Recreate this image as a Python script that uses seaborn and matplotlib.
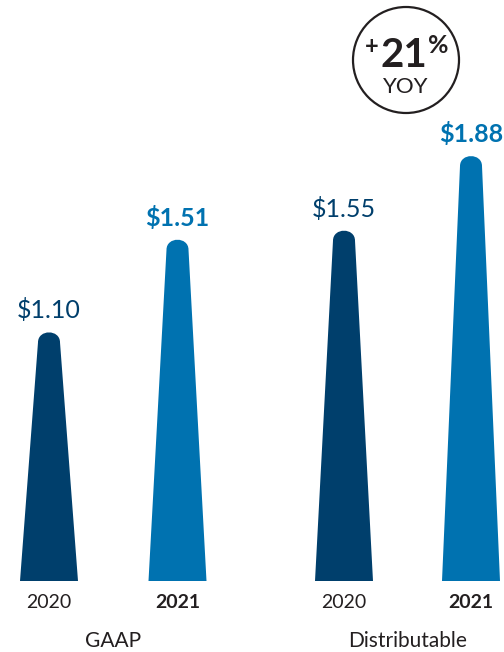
import pandas as pd
import seaborn as sns
import matplotlib.pyplot as plt
from matplotlib.path import Path
from matplotlib.patches import PathPatch, Ellipse

# data
groups = ['GAAP', 'GAAP', 'Distributable', 'Distributable']
years = ['2020', '2021', '2020', '2021']
values = [1.10, 1.51, 1.55, 1.88]
value_labels = ['$1.10', '$1.51', '$1.55', '$1.88']
yoy_pct = '21'
yoy_text = 'YOY'

# layout (pixels)
W, H = 504, 652
BASE = 581          # baseline row
PX_PER_UNIT = 226   # pixels per dollar
xpos = [49, 177.5, 344, 471]
DARK = '#003f6c'
BRIGHT = '#0072b0'
TEXT = '#231f20'
colors = {'2020': DARK, '2021': BRIGHT}

sns.set_theme(style='white')
plt.rcParams['font.family'] = ['Lato', 'DejaVu Sans']

fig = plt.figure(figsize=(W / 100, H / 100), dpi=100)
ax = fig.add_axes([0, (H - BASE) / H, 1, BASE / H])

df = pd.DataFrame({'x': xpos, 'value': values, 'year': years})
sns.barplot(data=df, x='x', y='value', hue='year', palette=colors, saturation=1,
            native_scale=True, dodge=False, legend=False, ax=ax)
ax.set_xlim(0, W)
ax.set_ylim(0, BASE / PX_PER_UNIT)
ax.set_xlabel('')
ax.set_ylabel('')

# turn the plain bars into tapered spikes with a rounded top
half_bot, half_top = 29, 11
cap = 10 / PX_PER_UNIT
for p in list(ax.patches):
    cx = p.get_x() + p.get_width() / 2
    h = p.get_height()
    fc = p.get_facecolor()
    p.remove()
    verts = [(cx - half_bot, 0), (cx - half_top, h - cap),
             (cx - half_top, h + cap / 3), (cx + half_top, h + cap / 3), (cx + half_top, h - cap),
             (cx + half_bot, 0), (cx - half_bot, 0)]
    codes = [Path.MOVETO, Path.LINETO, Path.CURVE4, Path.CURVE4, Path.CURVE4,
             Path.LINETO, Path.CLOSEPOLY]
    ax.add_patch(PathPatch(Path(verts, codes), facecolor=fc, edgecolor='none'))

# value labels
for x, v, lab, yr in zip(xpos, values, value_labels, years):
    bold = yr == '2021'
    ax.text(x, v + 14 / PX_PER_UNIT, lab, ha='center', va='baseline', fontsize=18,
            fontweight='bold' if bold else 'normal', color=colors[yr], clip_on=False)

# year tick labels
ax.set_xticks(xpos, years)
ax.tick_params(axis='x', length=0, pad=9, labelsize=14, labelcolor=TEXT)
for t, yr in zip(ax.get_xticklabels(), years):
    if yr == '2021':
        t.set_fontweight('bold')
ax.set_yticks([])
sns.despine(ax=ax, left=True, bottom=True)

# group labels
for g in dict.fromkeys(groups):
    gx = [x for x, gg in zip(xpos, groups) if gg == g]
    cx = sum(gx) / len(gx)
    fig.text(cx / W, 1 - 647 / H, g, ha='center', va='baseline', fontsize=15, color=TEXT)

# YOY badge
fig.add_artist(Ellipse((406 / W, 1 - 60 / H), 106 / W, 106 / H, transform=fig.transFigure,
                       facecolor='none', edgecolor=TEXT, linewidth=1.6))
fig.text(372 / W, 1 - 47 / H, '+', ha='center', va='center', fontsize=17,
         fontweight='bold', color=TEXT)
fig.text(404 / W, 1 - 67 / H, yoy_pct, ha='center', va='baseline', fontsize=29,
         fontweight='bold', color=TEXT)
fig.text(438 / W, 1 - 53 / H, '%', ha='center', va='baseline', fontsize=18,
         fontweight='bold', color=TEXT)
fig.text(406 / W, 1 - 93 / H, yoy_text, ha='center', va='baseline', fontsize=16, color=TEXT)

fig.savefig('out.png', dpi=100)
